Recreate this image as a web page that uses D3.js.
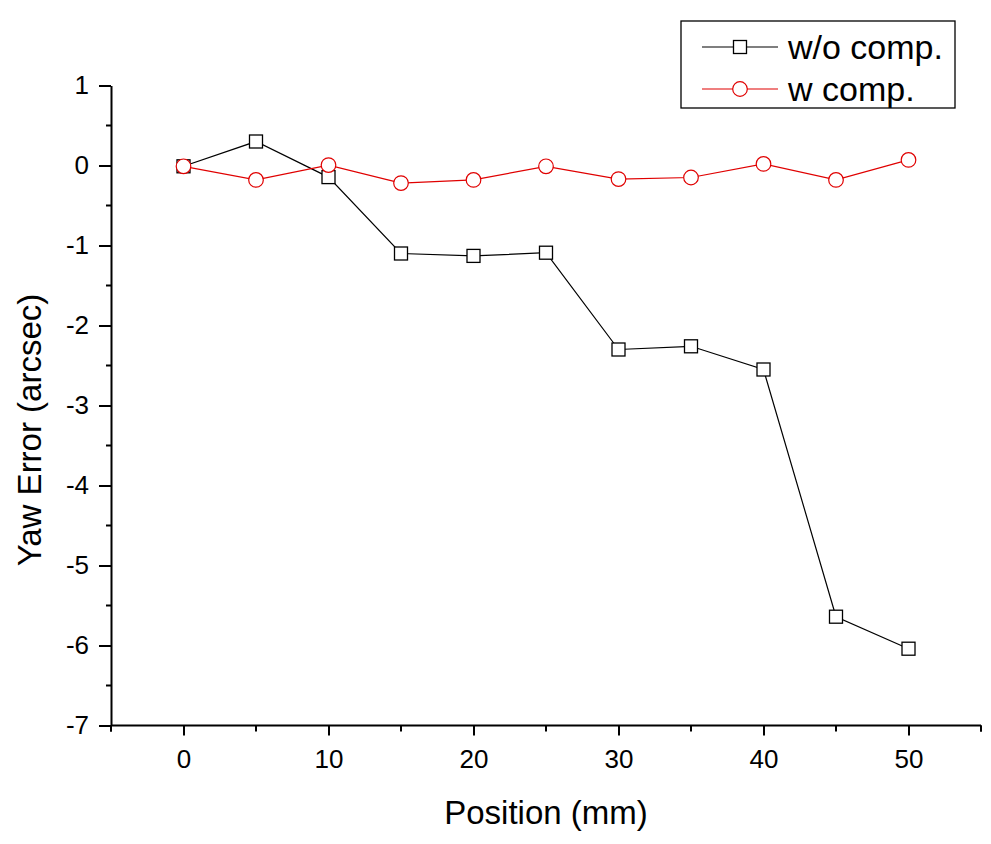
<!DOCTYPE html>
<html><head><meta charset="utf-8">
<script src="https://cdn.jsdelivr.net/npm/d3@7"></script>
<style>body{margin:0;background:#fff}svg{display:block}text{font-family:"Liberation Sans",Arial,sans-serif;fill:#000}</style>
</head><body><svg id="c" width="991" height="844"></svg>
<script>
const positions = [0, 5, 10, 15, 20, 25, 30, 35, 40, 45, 50];
const woComp = [-0.01, 0.30, -0.145, -1.10, -1.13, -1.09, -2.30, -2.26, -2.55, -5.64, -6.04];
const wComp = [-0.01, -0.18, 0.005, -0.22, -0.18, -0.01, -0.17, -0.15, 0.02, -0.18, 0.07];
const xTicks = [0, 10, 20, 30, 40, 50];
const yTicks = [1, 0, -1, -2, -3, -4, -5, -6, -7];
const seriesNames = ["w/o comp.", "w comp."];

const svg = d3.select("#c");
const x = d3.scaleLinear().domain([-5, 55]).range([111, 981]);
const y = d3.scaleLinear().domain([-7, 1]).range([725.5, 85.5]);
const fmt = d => String(d);

// axes
const xAxis = d3.axisBottom(x).tickValues(xTicks).tickSize(10).tickSizeOuter(0).tickPadding(14).tickFormat(fmt);
const gx = svg.append("g").attr("transform", "translate(0,725.5)").call(xAxis);
const xMinor = d3.range(-5, 56, 5).filter(v => !xTicks.includes(v));
gx.selectAll(".minor").data(xMinor).enter().append("line")
  .attr("x1", d => x(d)).attr("x2", d => x(d)).attr("y1", 0).attr("y2", 6).attr("stroke", "#000").attr("stroke-width", 2);

const yAxis = d3.axisLeft(y).tickValues(yTicks).tickSize(12).tickSizeOuter(0).tickPadding(10).tickFormat(fmt);
const gy = svg.append("g").attr("transform", "translate(111,0)").call(yAxis);
const yMinor = d3.range(-6.5, 1, 1);
gy.selectAll(".minor").data(yMinor).enter().append("line")
  .attr("x1", -5).attr("x2", 0).attr("y1", d => y(d)).attr("y2", d => y(d)).attr("stroke", "#000").attr("stroke-width", 2);

[gx, gy].forEach(g => {
  g.attr("font-size", null).attr("font-family", null);
  g.selectAll(".domain").attr("stroke", "#000").attr("stroke-width", 2);
  g.selectAll(".tick line").attr("stroke", "#000").attr("stroke-width", 2);
  g.selectAll(".tick text").style("font-size", "26px").style("font-family", "Liberation Sans, Arial, sans-serif").attr("fill", "#000");
});
gx.select(".domain").attr("d", `M${x(-5)},0H${x(55)}`);
gx.append("line").attr("x1", x(55)).attr("x2", x(55)).attr("y1", 0).attr("y2", 6).attr("stroke", "#000").attr("stroke-width", 2);
gx.append("line").attr("x1", x(-5)).attr("x2", x(-5)).attr("y1", 0).attr("y2", 6).attr("stroke", "#000").attr("stroke-width", 2);

// titles
svg.append("text").attr("x", 546).attr("y", 824).attr("text-anchor", "middle").style("font-size", "33px").text("Position (mm)");
svg.append("text").attr("transform", "translate(41,430) rotate(-90)").attr("text-anchor", "middle").style("font-size", "33px").text("Yaw Error (arcsec)");

// series
const data1 = positions.map((p, i) => [p, woComp[i]]);
const data2 = positions.map((p, i) => [p, wComp[i]]);
const line = d3.line().x(d => x(d[0])).y(d => y(d[1]));

svg.append("path").datum(data1).attr("d", line).attr("fill", "none").attr("stroke", "#000").attr("stroke-width", 1.2);
svg.selectAll(".sq").data(data1).enter().append("rect")
  .attr("x", d => x(d[0]) - 6.5).attr("y", d => y(d[1]) - 6.5).attr("width", 13).attr("height", 13)
  .attr("fill", "#fff").attr("stroke", "#000").attr("stroke-width", 1.3);

svg.append("path").datum(data2).attr("d", line).attr("fill", "none").attr("stroke", "#e00000").attr("stroke-width", 1.2);
svg.selectAll(".ci").data(data2).enter().append("circle")
  .attr("cx", d => x(d[0])).attr("cy", d => y(d[1])).attr("r", 7.3)
  .attr("fill", "#fff").attr("stroke", "#e00000").attr("stroke-width", 1.2);

// legend
const lg = svg.append("g");
lg.append("rect").attr("x", 681).attr("y", 21).attr("width", 274).attr("height", 87).attr("fill", "#fff").attr("stroke", "#000").attr("stroke-width", 1.3);
const rows = [47, 89];
lg.append("line").attr("x1", 702).attr("x2", 778).attr("y1", rows[0]).attr("y2", rows[0]).attr("stroke", "#000").attr("stroke-width", 1.2);
lg.append("rect").attr("x", 740 - 6.5).attr("y", rows[0] - 6.5).attr("width", 13).attr("height", 13).attr("fill", "#fff").attr("stroke", "#000").attr("stroke-width", 1.3);
lg.append("line").attr("x1", 702).attr("x2", 778).attr("y1", rows[1]).attr("y2", rows[1]).attr("stroke", "#e00000").attr("stroke-width", 1.2);
lg.append("circle").attr("cx", 740).attr("cy", rows[1]).attr("r", 7.3).attr("fill", "#fff").attr("stroke", "#e00000").attr("stroke-width", 1.2);
lg.selectAll(".lt").data(seriesNames).enter().append("text")
  .attr("x", 788).attr("y", (d, i) => rows[i] + 12).style("font-size", "34px").text(d => d);
</script></body></html>
